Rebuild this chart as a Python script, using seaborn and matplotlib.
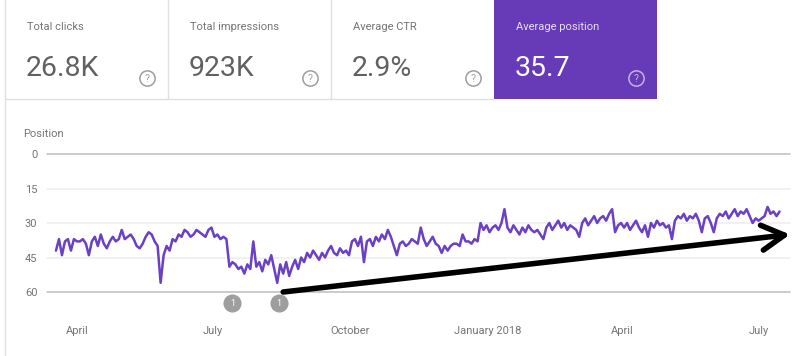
import pandas as pd
import numpy as np
import seaborn as sns
import matplotlib.pyplot as plt
from matplotlib.lines import Line2D
from matplotlib.patches import Rectangle

sns.set_theme(style="white")
plt.rcParams['font.family'] = ['Roboto', 'DejaVu Sans']

# score cards
card_titles = ["Total clicks", "Total impressions", "Average CTR", "Average position"]
card_values = ["26.8K", "923K", "2.9%", "35.7"]

# average position, one reading every 2 days starting 18 Mar 2017
pos_start = "2017-03-18"
pos_mar17 = [42, 37, 44, 38, 37, 42, 37]
pos_apr17 = [38, 38, 37, 39, 44, 38, 36, 40, 35, 39, 41, 38, 36, 38, 37]
pos_may17 = [33, 37, 36, 35, 37, 40, 41, 39, 36, 34, 35, 38, 40, 56, 44, 40]
pos_jun17 = [42, 37, 38, 35, 36, 33, 34, 36, 35, 33, 34, 35, 36, 33, 32]
pos_jul17 = [36, 35, 37, 36, 37, 49, 47, 48, 50, 49, 52, 48, 50, 38, 49]
pos_aug17 = [47, 51, 46, 48, 44, 50, 56, 48, 52, 47, 53, 49, 46, 50, 45, 47]
pos_sep17 = [43, 45, 42, 44, 46, 43, 45, 42, 40, 43, 44, 41, 43, 42, 44]
pos_oct17 = [38, 37, 40, 36, 47, 38, 37, 40, 36, 38, 35, 37, 33, 36, 40]
pos_nov17 = [44, 39, 38, 40, 39, 37, 38, 39, 32, 37, 40, 38, 36, 39, 40]
pos_dec17 = [43, 40, 42, 40, 39, 39, 40, 35, 38, 38, 39, 37, 38, 30, 33, 31]
pos_jan18 = [34, 32, 31, 33, 30, 24, 32, 34, 31, 33, 35, 32, 34, 31, 33]
pos_feb18 = [34, 33, 35, 37, 32, 30, 33, 31, 29, 32, 30, 33, 31, 32]
pos_mar18 = [33, 36, 30, 28, 31, 29, 27, 30, 28, 27, 29, 26, 24, 34, 31, 30]
pos_apr18 = [32, 30, 33, 31, 29, 32, 34, 31, 36, 30, 32, 29, 31, 30, 32]
pos_may18 = [31, 37, 29, 27, 28, 26, 29, 27, 28, 26, 29, 34, 28, 27, 30]
pos_jun18 = [34, 28, 26, 27, 25, 28, 26, 24, 27, 25, 26, 24, 27, 30, 28]
pos_jul18 = [29, 28, 27, 23, 26, 25, 27, 25]

positions = (pos_mar17 + pos_apr17 + pos_may17 + pos_jun17 + pos_jul17 + pos_aug17
             + pos_sep17 + pos_oct17 + pos_nov17 + pos_dec17 + pos_jan18 + pos_feb18
             + pos_mar18 + pos_apr18 + pos_may18 + pos_jun18 + pos_jul18)
dates = pd.date_range(pos_start, periods=len(positions), freq="2D")
df = pd.DataFrame({"date": dates, "position": positions})

y_ticks = [0, 15, 30, 45, 60]
x_ticks = ["2017-04-01", "2017-07-01", "2017-10-01", "2018-01-01", "2018-04-01", "2018-07-01"]
x_labels = ["April", "July", "October", "January 2018", "April", "July"]
x_range = ["2017-03-12", "2018-07-22"]
event_dates = ["2017-07-14", "2017-08-14"]
trend_from = ("2017-08-17", 60)
trend_to = ("2018-07-22", 35)

PURPLE = "#673ab7"
LINE = "#6a40c4"
GREY_TXT = "#757575"
W, H = 796, 356


def fx(px):
    return px / W


def fy(py):
    return 1 - py / H


fig = plt.figure(figsize=(W / 100, H / 100), dpi=100)
fig.patch.set_facecolor("white")

# --- score cards ---
card_w, card_h, card_x0 = 163, 99, 5
for i, (title, value) in enumerate(zip(card_titles, card_values)):
    x0 = card_x0 + i * card_w
    active = i == 3
    if active:
        fig.add_artist(Rectangle((fx(x0), fy(card_h)), card_w / W, card_h / H,
                                 transform=fig.transFigure, facecolor=PURPLE, edgecolor="none"))
    elif i > 0:
        fig.add_artist(Line2D([fx(x0), fx(x0)], [fy(0), fy(card_h)],
                              transform=fig.transFigure, color="#e0e0e0", lw=1))
    fig.text(fx(x0 + 22), fy(27), title, color="#e8e0f5" if active else GREY_TXT,
             fontsize=8, va="center", ha="left")
    fig.text(fx(x0 + 21), fy(68), value, color="white" if active else "#616161",
             fontsize=20.5, va="center", ha="left")
    icon_col = "#c5b3e6" if active else "#9e9e9e"
    fig.add_artist(Line2D([fx(x0 + 142)], [fy(78)], transform=fig.transFigure, marker="o",
                          markersize=11, mfc="none", mec=icon_col, mew=1.1))
    fig.text(fx(x0 + 142), fy(78.5), "?", color=icon_col, fontsize=7.5, ha="center", va="center")

fig.add_artist(Line2D([fx(card_x0), fx(card_x0 + 3 * card_w)], [fy(card_h), fy(card_h)],
                      transform=fig.transFigure, color="#e0e0e0", lw=1))
fig.add_artist(Line2D([fx(card_x0), fx(card_x0)], [fy(0), fy(H)],
                      transform=fig.transFigure, color="#e0e0e0", lw=1))

# --- chart ---
ax = fig.add_axes([fx(47), fy(292), (790 - 47) / W, (292 - 154) / H])
ax.set_facecolor("white")
fig.text(fx(23), fy(134), "Position", color=GREY_TXT, fontsize=8, va="center")

for v in y_ticks:
    ax.axhline(v, color="#bdbdbd" if v in (0, 60) else "#eeeeee", lw=1.1, zorder=0,
               clip_on=False)

sns.lineplot(data=df, x="date", y="position", color=LINE, lw=1.8, ax=ax)

ax.set_ylim(60, 0)
ax.set_xlim(pd.to_datetime(x_range[0]), pd.to_datetime(x_range[1]))
ax.set_yticks(y_ticks)
ax.set_yticklabels([str(v) for v in y_ticks])
ax.set_xticks(pd.to_datetime(x_ticks))
ax.set_xticklabels(x_labels)
ax.set_xlabel("")
ax.set_ylabel("")
ax.grid(False)
for s in ["top", "right", "left"]:
    ax.spines[s].set_visible(False)
ax.spines["bottom"].set_position(("outward", 17.5))
ax.spines["bottom"].set_color("none")
ax.tick_params(axis="y", length=0, pad=7, labelsize=8, labelcolor=GREY_TXT)
ax.tick_params(axis="x", length=3, width=0.8, color="#bdbdbd", pad=4,
               labelsize=8, labelcolor=GREY_TXT, direction="out")

# annotation markers under the axis
for d in event_dates:
    ax.plot([pd.to_datetime(d)], [64.8], marker="o", markersize=12, color="#9e9e9e",
            clip_on=False, zorder=5)
    ax.text(pd.to_datetime(d), 64.8, "1", color="white", fontsize=6.5, ha="center",
            va="center", clip_on=False, zorder=6)

# hand-drawn trend arrow
ax.annotate("", xy=(pd.to_datetime(trend_to[0]), trend_to[1]),
            xytext=(pd.to_datetime(trend_from[0]), trend_from[1]),
            arrowprops=dict(arrowstyle="->,head_length=0.9,head_width=0.5", color="black",
                            lw=4, shrinkA=0, shrinkB=0, mutation_scale=18),
            annotation_clip=False, zorder=7)

fig.savefig("out.png", dpi=100)
